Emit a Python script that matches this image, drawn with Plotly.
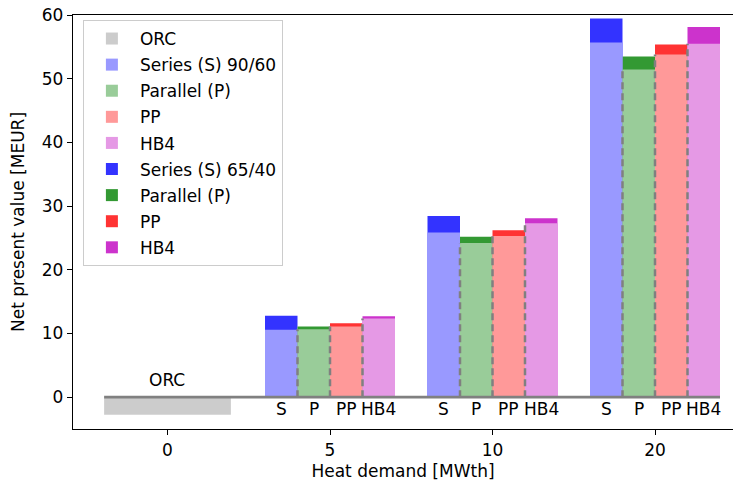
import plotly.graph_objects as go

# ---- data ----
demand_labels = ["0", "5", "10", "20"]
demand_pos = [0, 1, 2, 3]
scheme_labels = ["S", "P", "PP", "HB4"]
orc_value = [-2.75]

s_9060 = [10.6, 25.85, 55.7]
p_9060 = [10.65, 24.2, 51.45]
pp_9060 = [11.1, 25.3, 53.8]
hb4_9060 = [12.35, 27.3, 55.5]

s_6540 = [12.8, 28.45, 59.45]
p_6540 = [11.1, 25.2, 53.5]
pp_6540 = [11.6, 26.2, 55.35]
hb4_6540 = [12.7, 28.1, 58.1]

light_names = ["Series (S) 90/60", "Parallel (P)", "PP", "HB4"]
dark_names = ["Series (S) 65/40", "Parallel (P)", "PP", "HB4"]
light_vals = [s_9060, p_9060, pp_9060, hb4_9060]
dark_vals = [s_6540, p_6540, pp_6540, hb4_6540]
light_colors = ["#9999ff", "#99cc99", "#ff9999", "#e599e5"]
dark_colors = ["#3333ff", "#339933", "#ff3333", "#cc33cc"]
offsets = [-0.4, -0.2, 0.0, 0.2]
bw = 0.2

grp_x = demand_pos[1:]
FS = 17

fig = go.Figure()

# ORC bar
fig.add_trace(go.Bar(x=[demand_pos[0]], y=orc_value, width=0.78, name="ORC",
                     marker=dict(color="#cccccc", line=dict(width=0)),
                     legendrank=1, legendgroup="orc"))

# dark (65/40) bars behind
for i in range(4):
    fig.add_trace(go.Bar(x=grp_x, y=dark_vals[i], width=bw, offset=offsets[i],
                         name=dark_names[i],
                         marker=dict(color=dark_colors[i], line=dict(width=0)),
                         legendrank=10 + i, legendgroup="d%d" % i))
# light (90/60) bars on top
for i in range(4):
    fig.add_trace(go.Bar(x=grp_x, y=light_vals[i], width=bw, offset=offsets[i],
                         name=light_names[i],
                         marker=dict(color=light_colors[i], line=dict(width=0)),
                         legendrank=2 + i, legendgroup="l%d" % i))

# dashed separators (left edges of P, PP, HB4 light bars)
for i in range(1, 4):
    xs, ys = [], []
    for g, v in zip(grp_x, light_vals[i]):
        xs += [g + offsets[i], g + offsets[i], None]
        ys += [0, v, None]
    fig.add_trace(go.Scatter(x=xs, y=ys, mode="lines", showlegend=False,
                             line=dict(color="#808080", width=2.5, dash="7px,4px"),
                             hoverinfo="skip"))

# zero line
fig.add_trace(go.Scatter(x=[demand_pos[0] - 0.39, grp_x[-1] + offsets[-1] + bw],
                         y=[0, 0], mode="lines", showlegend=False,
                         line=dict(color="#808080", width=2.8), hoverinfo="skip"))

annotations = []
for g in grp_x:
    for i, lab in enumerate(scheme_labels):
        annotations.append(dict(x=g + offsets[i] + bw / 2, y=-1.9, text=lab,
                                showarrow=False, xanchor="center", yanchor="middle",
                                font=dict(size=FS, color="black")))
annotations.append(dict(x=demand_pos[0], y=2.75, text="ORC", showarrow=False,
                        xanchor="center", yanchor="middle",
                        font=dict(size=FS, color="black")))

fig.update_layout(
    width=725, height=473,
    margin=dict(l=65, r=0, t=7, b=52),
    plot_bgcolor="white", paper_bgcolor="white",
    barmode="overlay",
    font=dict(family="DejaVu Sans", size=FS, color="black"),
    annotations=annotations,
    legend=dict(x=0.015, y=0.988, xanchor="left", yanchor="top",
                bordercolor="#cccccc", borderwidth=1, bgcolor="white",
                font=dict(size=FS), tracegroupgap=1, traceorder="grouped",
                itemwidth=46),
    xaxis=dict(range=[-0.5815, 3.48], tickmode="array", tickvals=demand_pos,
               ticktext=demand_labels, showgrid=False, zeroline=False,
               showline=True, linecolor="black", linewidth=1.3, mirror=True,
               ticks="outside", ticklen=5, tickcolor="black", automargin=False,
               ticklabeloverflow="allow",
               title=dict(text="Heat demand [MWth]", font=dict(size=FS), standoff=12),
               tickfont=dict(size=FS)),
    yaxis=dict(range=[-5, 60], tickvals=[0, 10, 20, 30, 40, 50, 60],
               showgrid=False, zeroline=False, showline=True, linecolor="black",
               linewidth=1.3, ticks="outside", ticklen=5, tickcolor="black",
               automargin=False, ticklabeloverflow="allow",
               title=dict(text="Net present value [MEUR]", font=dict(size=FS)),
               tickfont=dict(size=FS)),
)

fig.write_html("out.html")
